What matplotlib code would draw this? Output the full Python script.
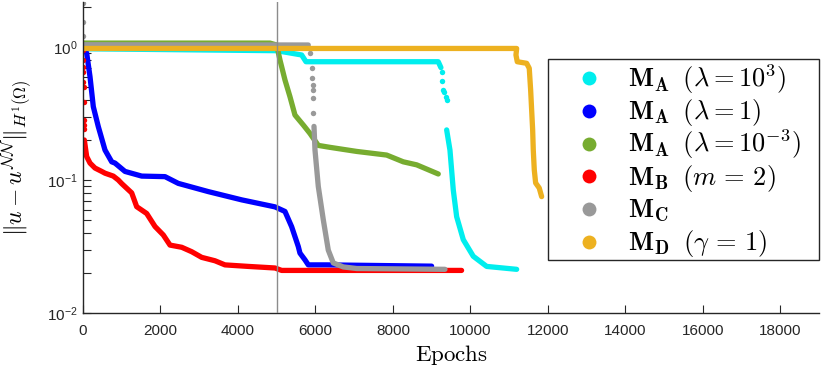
import matplotlib
matplotlib.use('Agg')
import matplotlib.pyplot as plt
from matplotlib.lines import Line2D
from matplotlib.patches import Rectangle
from matplotlib.ticker import LogLocator, NullFormatter, FixedLocator

plt.rcParams['font.family'] = ['Liberation Sans', 'DejaVu Sans']
plt.rcParams['mathtext.fontset'] = 'cm'
plt.rcParams['axes.unicode_minus'] = False

# ---------------- data ----------------
# M_A (lambda = 1e3) - cyan
cyan_x = [0, 5000, 5645, 5756, 9171, 9240]
cyan_y = [0.97, 0.938, 0.871, 0.775, 0.775, 0.70]
cyan_dots_x = [9259, 9275, 9300, 9330, 9380, 9388]
cyan_dots_y = [0.652, 0.555, 0.475, 0.46, 0.42, 0.40]
cyan_tail_x = [9388, 9473, 9559, 9646, 9817, 10075, 10421, 11195]
cyan_tail_y = [0.238, 0.168, 0.084, 0.053, 0.0356, 0.0267, 0.0224, 0.0213]

# M_A (lambda = 1) - blue
blue_x = [0, 52, 95, 181, 266, 395, 568, 741, 826, 1084, 1515, 2117, 2460,
          3234, 4097, 4956, 5214, 5387, 5558, 5601, 5730, 5816, 6291, 9000]
blue_y = [0.98, 0.95, 0.897, 0.598, 0.356, 0.252, 0.168, 0.137, 0.134, 0.116,
          0.107, 0.106, 0.0943, 0.0818, 0.0709, 0.0628, 0.058, 0.0445, 0.0316,
          0.0282, 0.0251, 0.0230, 0.0230, 0.0225]

# M_A (lambda = 1e-3) - green
green_x = [0, 4827, 5000, 5085, 5214, 5343, 5472, 5687, 5859, 6074, 6376,
           7065, 7839, 8268, 8614, 9171]
green_y = [1.07, 1.07, 1.035, 0.798, 0.565, 0.423, 0.308, 0.259, 0.224, 0.182,
           0.176, 0.164, 0.154, 0.137, 0.130, 0.111]

# M_B (m = 2) - red
red_dots_x = [0, 3, 6, 9, 12, 15, 18, 21, 24, 27]
red_dots_y = [0.949, 0.798, 0.711, 0.652, 0.548, 0.503, 0.388, 0.283, 0.261, 0.240]
red_x = [34, 95, 137, 181, 310, 483, 568, 782, 911, 999, 1257, 1386, 1644,
         1859, 2073, 2246, 2548, 2806, 3064, 3407, 3665, 4267, 4956, 5129,
         5816, 9773]
red_y = [0.200, 0.150, 0.142, 0.134, 0.123, 0.116, 0.1125, 0.107, 0.100,
         0.094, 0.080, 0.063, 0.056, 0.0447, 0.0386, 0.0324, 0.0312, 0.0289,
         0.0262, 0.0247, 0.0230, 0.0224, 0.0218, 0.0209, 0.0209, 0.0209]

# M_C - gray
gray_dots_x = [0, 0, 0, 5859, 5903, 5919, 5930, 5945, 5945, 5945]
gray_dots_y = [2.15, 1.55, 1.21, 0.897, 0.692, 0.582, 0.518, 0.475, 0.412, 0.321]
gray_x = [0, 5816]
gray_y = [1.04, 1.035]
gray_tail_x = [5963, 5989, 6074, 6203, 6332, 6461, 6719, 7065, 9344]
gray_tail_y = [0.253, 0.168, 0.0895, 0.0503, 0.0297, 0.0238, 0.0222, 0.0216, 0.0213]

# M_D (gamma = 1) - yellow
yellow_x = [0, 11195, 11177, 11211, 11453, 11520, 11556, 11582, 11608, 11624,
            11650, 11685, 11778, 11840]
yellow_y = [0.975, 0.975, 0.871, 0.775, 0.754, 0.692, 0.475, 0.336, 0.238,
            0.168, 0.119, 0.095, 0.087, 0.075]

labels = [r'$\mathbf{M_{A}}\;\;(\lambda = 10^{3})$',
          r'$\mathbf{M_{A}}\;\;(\lambda = 1)$',
          r'$\mathbf{M_{A}}\;\;(\lambda = 10^{-3})$',
          r'$\mathbf{M_{B}}\;\;(m \,=\, 2)$',
          r'$\mathbf{M_{C}}$',
          r'$\mathbf{M_{D}}\;\;(\gamma \,=\, 1)$']
colors = ['#00EEEE', '#0000FF', '#77AC30', '#FF0000', '#999999', '#EDB120']

xticks = [0, 2000, 4000, 6000, 8000, 10000, 12000, 14000, 16000, 18000]
split_epoch = 5000

# ---------------- figure ----------------
W, H = 822, 369
fig = plt.figure(figsize=(W / 100, H / 100), dpi=100)
ax = fig.add_axes([83 / W, (H - 313) / H, 736 / W, 311 / H])

LW = 3.8
MS = 3.9

def line(xs, ys, c):
    ax.plot(xs, ys, color=c, lw=LW, solid_capstyle='round',
            solid_joinstyle='round')

def dots(xs, ys, c):
    ax.plot(xs, ys, ls='none', marker='o', ms=MS, mew=0, color=c)

line(cyan_x, cyan_y, colors[0])
dots(cyan_dots_x, cyan_dots_y, colors[0])
line(cyan_tail_x, cyan_tail_y, colors[0])

line(blue_x, blue_y, colors[1])
line(green_x, green_y, colors[2])

dots(red_dots_x, red_dots_y, colors[3])
line(red_x, red_y, colors[3])

line(gray_x, gray_y, colors[4])
dots(gray_dots_x, gray_dots_y, colors[4])
line(gray_tail_x, gray_tail_y, colors[4])

line(yellow_x, yellow_y, colors[5])

ax.axvline(split_epoch, color='#8c8c8c', lw=1.0, zorder=5)

ax.set_yscale('log')
ax.set_xlim(0, 19000)
ax.set_ylim(0.01, 10 ** (311 / 133 - 2))
ax.xaxis.set_major_locator(FixedLocator(xticks))
ax.yaxis.set_major_locator(LogLocator(base=10))
ax.yaxis.set_minor_locator(LogLocator(base=10, subs=range(2, 10)))
ax.yaxis.set_minor_formatter(NullFormatter())

for s in ['top', 'right']:
    ax.spines[s].set_visible(False)
for s in ['left', 'bottom']:
    ax.spines[s].set_color('#262626')
    ax.spines[s].set_linewidth(1.0)

ax.tick_params(which='both', direction='in', length=5.5, width=0.8,
               color='#262626', labelcolor='#262626', labelsize=11)
ax.tick_params(axis='x', pad=8)
ax.tick_params(axis='y', pad=4)

ax.set_xlabel(r'$\mathrm{Epochs}$', fontsize=16.5)
ax.xaxis.set_label_coords(0.5, -0.095)
ax.set_ylabel(r'$\Vert u - u^{\mathcal{NN}}\Vert_{H^1(\Omega)}$', fontsize=17)
ax.yaxis.set_label_coords(-0.066, 0.5)

# ---------------- legend (uniform rows, as in the reference) ----------------
box_l, box_t, box_r, box_b = 548, 59, 819, 260
fig.add_artist(Rectangle((box_l / W, 1 - box_b / H), (box_r - box_l) / W,
                         (box_b - box_t) / H, transform=fig.transFigure,
                         facecolor='white', edgecolor='#262626', lw=1.0,
                         zorder=3))
row0, drow = 78.3, 32.65
for i, (lab, c) in enumerate(zip(labels, colors)):
    yc = row0 + i * drow
    fig.add_artist(Line2D([589 / W], [1 - yc / H], ls='none', marker='o',
                          ms=10, mew=0, color=c, transform=fig.transFigure,
                          zorder=4))
    fig.text(628 / W, 1 - (yc + 8.5) / H, lab, fontsize=19, va='baseline',
             ha='left', zorder=4)

fig.savefig('out.png', dpi=100)
